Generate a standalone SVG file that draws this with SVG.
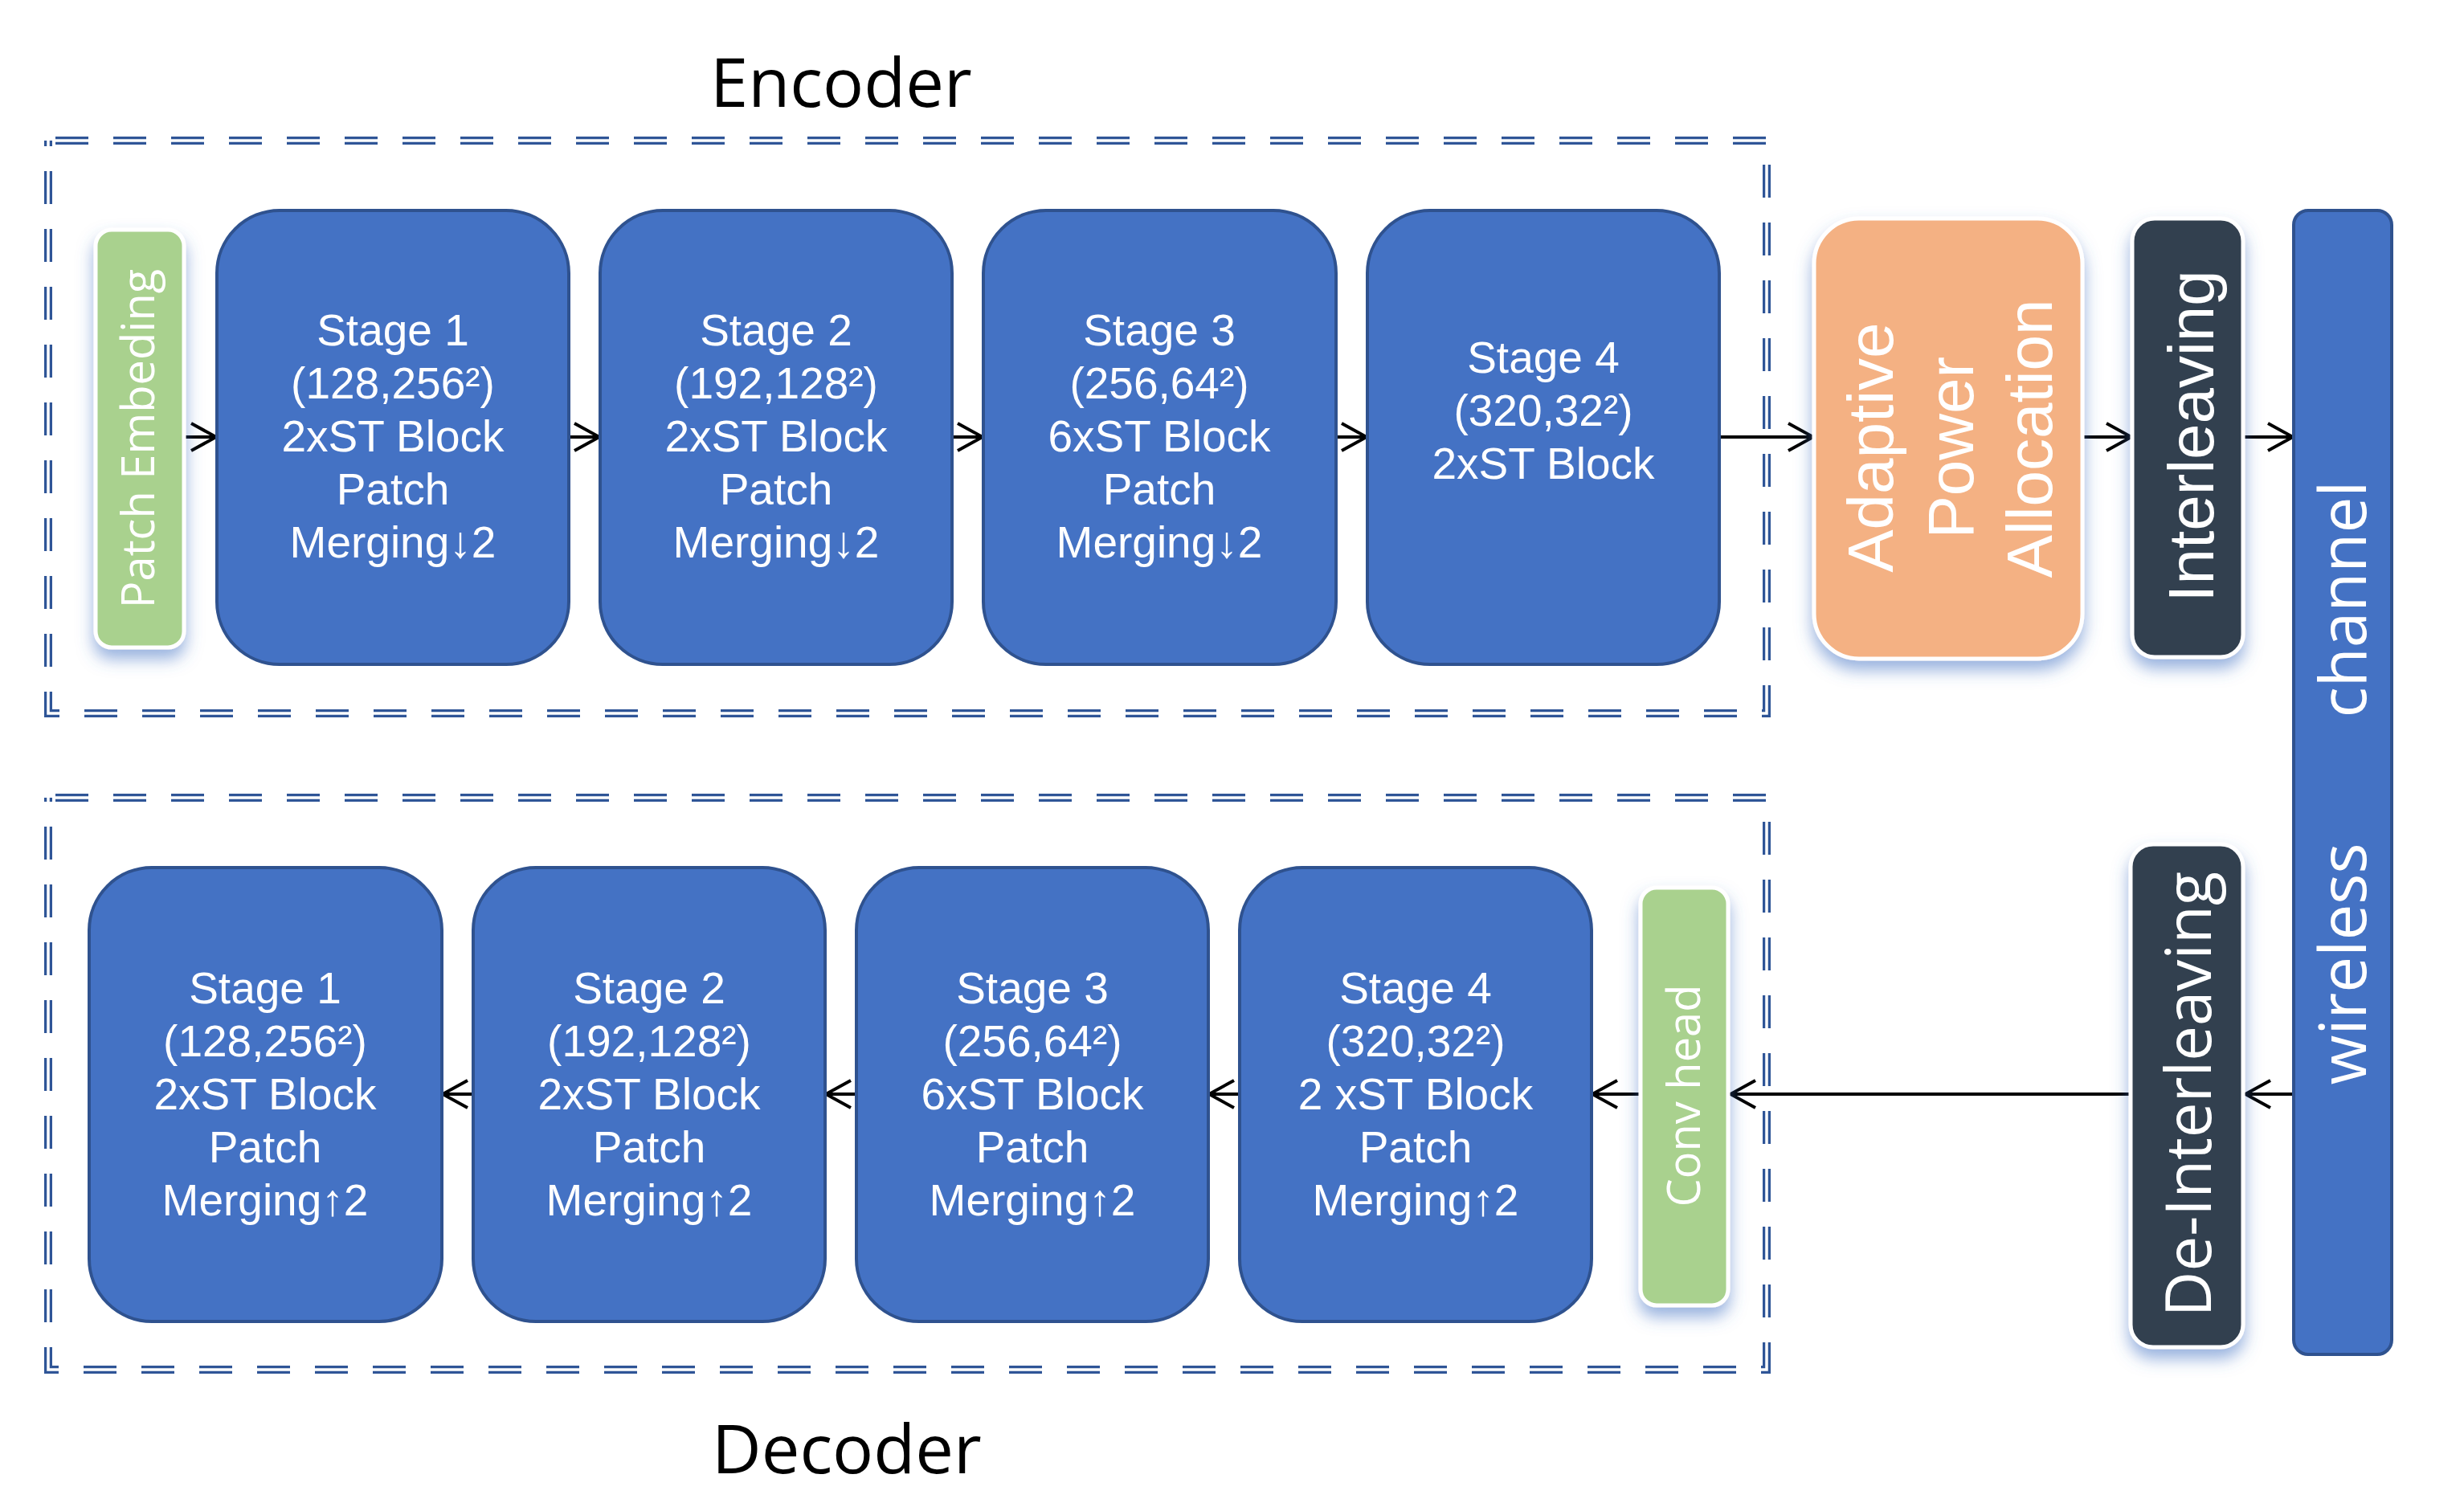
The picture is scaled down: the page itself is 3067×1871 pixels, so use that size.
<svg xmlns="http://www.w3.org/2000/svg" width="3067" height="1871" viewBox="0 0 3067 1871">
<defs>
<style>
.stage rect{fill:#4472C4;stroke:#2F528F;stroke-width:4}
.stage text{font-family:'Liberation Sans','Arial',sans-serif;font-size:55px;fill:#fff;text-anchor:middle}
.glow{filter:url(#sh)}
.wb{stroke:#fff;stroke-width:5}
.vt{fill:#fff;text-anchor:middle}
.os{font-family:'Open Sans','Noto Sans',sans-serif}
.ls{font-family:'Liberation Sans','Arial',sans-serif}
.conn line{stroke:#000;stroke-width:4;marker-end:url(#ah)}
.fr{fill:none;stroke-dasharray:41 31;stroke-dashoffset:63}
.fr1{stroke:#2F5597;stroke-width:10}
.fr2{stroke:#fff;stroke-width:3.5}
.title{font-family:'Open Sans','Noto Sans',sans-serif;font-size:85px;fill:#000}
</style>
<filter id="sh" x="-40%" y="-20%" width="180%" height="150%">
<feDropShadow dx="0" dy="12" stdDeviation="10" flood-color="#4472C4" flood-opacity="0.55"/>
</filter>
<marker id="ah" markerUnits="userSpaceOnUse" viewBox="0 0 40 40" markerWidth="40" markerHeight="40" refX="37" refY="20" orient="auto">
<path d="M5 3 L36 20 L5 37" fill="none" stroke="#000" stroke-width="4"/>
</marker>
</defs>
<rect width="3067" height="1871" fill="#fff"/>

<g id="encoder-frame">
<path class="fr fr1" d="M60,175 H2199 V888 H60 Z"/>
<path class="fr fr2" d="M60,175 H2199 V888 H60 Z"/>
<text class="title" x="884" y="133">Encoder</text>
</g>
<g id="decoder-frame">
<path class="fr fr1" d="M60,993 H2199 V1705 H60 Z"/>
<path class="fr fr2" d="M60,993 H2199 V1705 H60 Z"/>
<text class="title" x="886" y="1834">Decoder</text>
</g>

<g id="connectors" class="conn">
<line x1="229" y1="544" x2="270" y2="544"/>
<line x1="708" y1="544" x2="747" y2="544"/>
<line x1="1185" y1="544" x2="1224" y2="544"/>
<line x1="1663" y1="544" x2="1702" y2="544"/>
<line x1="2140" y1="544" x2="2258" y2="544"/>
<line x1="2592" y1="544" x2="2654" y2="544"/>
<line x1="2792" y1="544" x2="2855" y2="544"/>
<line x1="2855" y1="1362" x2="2794" y2="1362"/>
<line x1="2652" y1="1362" x2="2153" y2="1362"/>
<line x1="2042" y1="1362" x2="1981" y2="1362"/>
<line x1="1543" y1="1362" x2="1504" y2="1362"/>
<line x1="1066" y1="1362" x2="1027" y2="1362"/>
<line x1="589" y1="1362" x2="550" y2="1362"/>
</g>

<g id="patch-embeding">
<rect class="glow wb" x="119" y="286" width="110" height="520" rx="20" fill="#A9D18E"/>
<text class="vt os" font-size="56" transform="translate(192,546) rotate(-90)">Patch Embeding</text>
</g>

<g id="enc-stage1" class="stage">
<rect x="270" y="262" width="438" height="565" rx="78"/>
<text x="489" y="430">Stage 1</text>
<text x="489" y="496">(128,256²)</text>
<text x="489" y="562">2xST Block</text>
<text x="489" y="628">Patch</text>
<text x="489" y="694">Merging↓2</text>
</g>
<g id="enc-stage2" class="stage">
<rect x="747" y="262" width="438" height="565" rx="78"/>
<text x="966" y="430">Stage 2</text>
<text x="966" y="496">(192,128²)</text>
<text x="966" y="562">2xST Block</text>
<text x="966" y="628">Patch</text>
<text x="966" y="694">Merging↓2</text>
</g>
<g id="enc-stage3" class="stage">
<rect x="1224" y="262" width="439" height="565" rx="78"/>
<text x="1443" y="430">Stage 3</text>
<text x="1443" y="496">(256,64²)</text>
<text x="1443" y="562">6xST Block</text>
<text x="1443" y="628">Patch</text>
<text x="1443" y="694">Merging↓2</text>
</g>
<g id="enc-stage4" class="stage">
<rect x="1702" y="262" width="438" height="565" rx="78"/>
<text x="1921" y="464">Stage 4</text>
<text x="1921" y="530">(320,32²)</text>
<text x="1921" y="596">2xST Block</text>
</g>

<g id="adaptive-power-allocation">
<rect class="glow wb" x="2258" y="272" width="334" height="548" rx="56" fill="#F4B183"/>
<text class="vt ls" font-size="80" transform="translate(2425,546) rotate(-90)">
<tspan x="0" y="-69">Adaptive</tspan>
<tspan x="0" y="31">Power</tspan>
<tspan x="0" y="129">Allocation</tspan>
</text>
</g>

<g id="interleaving">
<rect class="glow wb" x="2654" y="272" width="138" height="546" rx="28" fill="#333F50"/>
<text class="vt ls" font-size="80" transform="translate(2755,543) rotate(-90)">Interleaving</text>
</g>

<g id="wireless-channel">
<rect x="2855" y="262" width="122" height="1424" rx="18" fill="#4472C4" stroke="#2F528F" stroke-width="4"/>
<text class="vt os" font-size="80" transform="translate(2945,746) rotate(-90)">channel</text>
<text class="vt os" font-size="80" transform="translate(2945,1200) rotate(-90)">wireless</text>
</g>

<g id="de-interleaving">
<rect class="glow wb" x="2652" y="1051" width="140" height="626" rx="28" fill="#333F50"/>
<text class="vt os" font-size="78" transform="translate(2752,1362) rotate(-90)">De-Interleaving</text>
</g>

<g id="conv-head">
<rect class="glow wb" x="2042" y="1105" width="109" height="520" rx="20" fill="#A9D18E"/>
<text class="vt os" font-size="56" transform="translate(2116,1364) rotate(-90)">Conv head</text>
</g>

<g id="dec-stage4" class="stage">
<rect x="1543" y="1080" width="438" height="565" rx="78"/>
<text x="1762" y="1249">Stage 4</text>
<text x="1762" y="1315">(320,32²)</text>
<text x="1762" y="1381">2 xST Block</text>
<text x="1762" y="1447">Patch</text>
<text x="1762" y="1513">Merging↑2</text>
</g>
<g id="dec-stage3" class="stage">
<rect x="1066" y="1080" width="438" height="565" rx="78"/>
<text x="1285" y="1249">Stage 3</text>
<text x="1285" y="1315">(256,64²)</text>
<text x="1285" y="1381">6xST Block</text>
<text x="1285" y="1447">Patch</text>
<text x="1285" y="1513">Merging↑2</text>
</g>
<g id="dec-stage2" class="stage">
<rect x="589" y="1080" width="438" height="565" rx="78"/>
<text x="808" y="1249">Stage 2</text>
<text x="808" y="1315">(192,128²)</text>
<text x="808" y="1381">2xST Block</text>
<text x="808" y="1447">Patch</text>
<text x="808" y="1513">Merging↑2</text>
</g>
<g id="dec-stage1" class="stage">
<rect x="111" y="1080" width="439" height="565" rx="78"/>
<text x="330" y="1249">Stage 1</text>
<text x="330" y="1315">(128,256²)</text>
<text x="330" y="1381">2xST Block</text>
<text x="330" y="1447">Patch</text>
<text x="330" y="1513">Merging↑2</text>
</g>
</svg>
